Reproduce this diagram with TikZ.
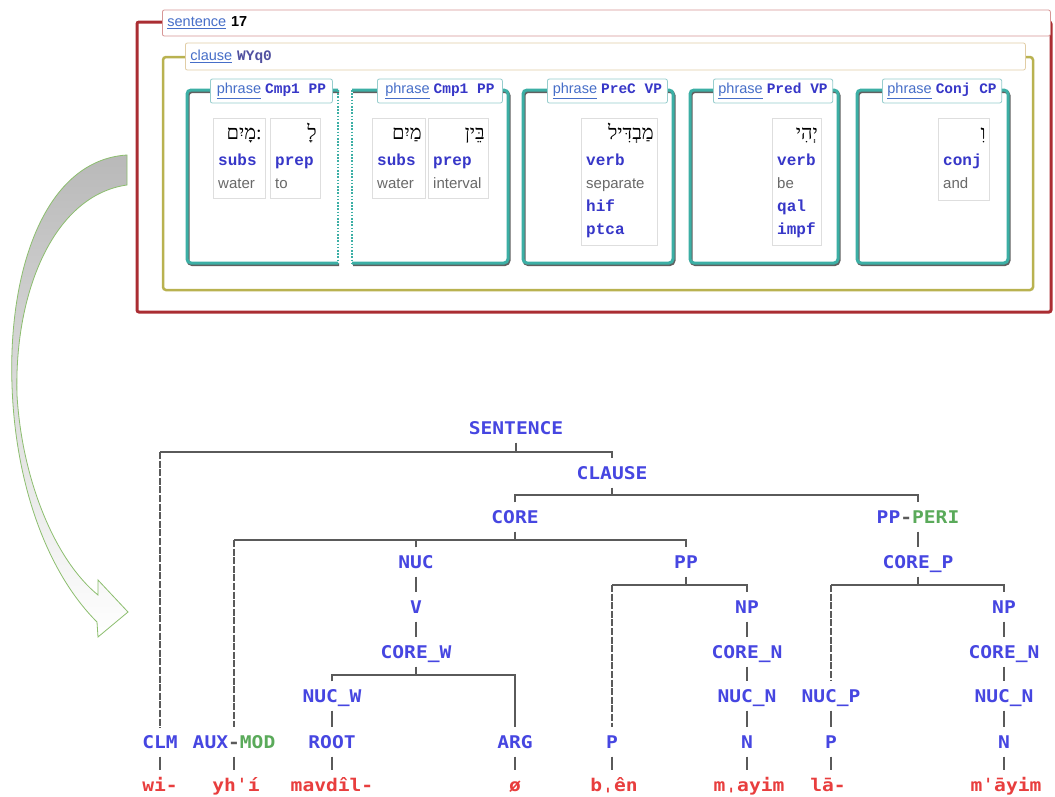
\documentclass[tikz,border=0pt]{standalone}
\usepackage{fontspec}
\usetikzlibrary{calc}
\setmainfont{Liberation Sans}
\newfontfamily\treefont[FakeStretch=1.12]{DejaVu Sans Mono}
\newfontfamily\posfont{Liberation Mono}
\newfontfamily\hebfont[Script=Hebrew]{Liberation Serif}
\TeXXeTstate=1
\definecolor{tblue}{RGB}{70,70,225}
\definecolor{tgreen}{RGB}{90,170,90}
\definecolor{tred}{RGB}{232,62,62}
\definecolor{tline}{RGB}{90,90,90}
\definecolor{sred}{RGB}{170,45,50}
\definecolor{spink}{RGB}{215,150,150}
\definecolor{colive}{RGB}{185,178,80}
\definecolor{cbeige}{RGB}{225,205,165}
\definecolor{pteal}{RGB}{60,175,165}
\definecolor{plteal}{RGB}{150,205,205}
\definecolor{wgray}{RGB}{222,222,222}
\definecolor{link}{RGB}{70,110,200}
\definecolor{posblue}{RGB}{55,55,200}
\definecolor{clblue}{RGB}{80,80,160}
\definecolor{glossgray}{RGB}{105,105,105}
\definecolor{arrowgreen}{RGB}{140,190,110}
\tikzset{
  tn/.style={font=\treefont\bfseries\fontsize{17.5}{20}\selectfont, text=tblue,
    inner xsep=1pt, inner ysep=8pt, text height=12.8pt, text depth=0pt},
  tw/.style={tn, text=tred},
  br/.style={draw=tline, line width=1.5pt},
  dl/.style={br, dash pattern=on 7pt off 1.6pt},
  lab/.style={draw=#1, fill=white, line width=0.8pt, rounded corners=2pt,
    inner xsep=5pt, inner ysep=0pt, anchor=west, font=\fontsize{14.5}{17}\selectfont},
  pframe/.style={draw=pteal, line width=3pt, rounded corners=4pt},
  pshadow/.style={draw=gray!75!black, line width=3pt, rounded corners=4pt},
  pdots/.style={draw=pteal, line width=2pt, dash pattern=on 1.6pt off 1.6pt},
  wbox/.style={draw=wgray, line width=1pt, fill=white, anchor=north west, inner sep=0pt},
  heb/.style={inner sep=0pt, anchor=base east, font=\hebfont\fontsize{20}{22}\selectfont},
  posl/.style={inner sep=0pt, anchor=base west, text=posblue, font=\posfont\bfseries\fontsize{16}{18}\selectfont},
  gl/.style={inner sep=0pt, anchor=base west, text=glossgray, font=\fontsize{15}{17}\selectfont}
}
\begin{document}
\begin{tikzpicture}[x=1pt,y=-1pt]
\useasboundingbox (0,0) rectangle (1055,796);
\fill[white] (0,0) rectangle (1055,796);

% ---------- curved block arrow ----------
\path[draw=arrowgreen, line width=0.8pt, top color=gray!55, middle color=gray!25, bottom color=white]
  (127,155) .. controls (45,160) and (8,270) .. (12,385)
  .. controls (15,480) and (45,570) .. (97,622)
  -- (98,637) -- (128,612) -- (98,580) -- (98,595)
  .. controls (55,560) and (22,480) .. (17,395)
  .. controls (14,290) and (55,195) .. (127,185) -- cycle;

% ---------- sentence frame ----------
\draw[sred, line width=3pt, rounded corners=2pt] (137,22) rectangle (1051,312);
\node[lab=spink, minimum height=26pt, text width=878pt] (slab) at (162,23)
  {{\color{link}\underline{sentence}} \textbf{17}};

% ---------- clause frame ----------
\draw[colive, line width=2.5pt, rounded corners=3pt] (163,57) rectangle (1033,290);
\node[lab=cbeige, minimum height=27pt, text width=830pt] (clab) at (185,56.5)
  {{\color{link}\underline{clause}} {\posfont\bfseries\color{clblue}WYq0}};

% ---------- phrase frames ----------
\draw[pshadow] (339,91.5) -- (188,91.5) -- (188,264.5) -- (339,264.5);
\draw[pframe] (338,90) -- (187,90) -- (187,263) -- (338,263);
\draw[pdots] (338,90) -- (338,263);
\draw[pshadow] (353,91.5) -- (509,91.5) -- (509,264.5) -- (353,264.5);
\draw[pframe] (352,90) -- (508,90) -- (508,263) -- (352,263);
\draw[pdots] (352,90) -- (352,263);
\draw[pshadow] (524,91.5) rectangle (674,264.5);
\draw[pframe] (523,90) rectangle (673,263);
\draw[pshadow] (691,91.5) rectangle (839,264.5);
\draw[pframe] (690,90) rectangle (838,263);
\draw[pshadow] (858,91.5) rectangle (1009,264.5);
\draw[pframe] (857,90) rectangle (1008,263);

\node[lab=plteal, minimum height=24pt, minimum width=122pt] (pl1) at (210,91)
  {{\color{link}\underline{phrase}} {\posfont\bfseries\color{posblue}Cmp1 PP}};
\node[lab=plteal, minimum height=24pt, minimum width=125pt] (pl2) at (377,91)
  {{\color{link}\underline{phrase}} {\posfont\bfseries\color{posblue}Cmp1 PP}};
\node[lab=plteal, minimum height=24pt, minimum width=120pt] (pl3) at (547,91)
  {{\color{link}\underline{phrase}} {\posfont\bfseries\color{posblue}PreC VP}};
\node[lab=plteal, minimum height=24pt, minimum width=119pt] (pl4) at (713,91)
  {{\color{link}\underline{phrase}} {\posfont\bfseries\color{posblue}Pred VP}};
\node[lab=plteal, minimum height=24pt, minimum width=118pt] (pl5) at (882,91)
  {{\color{link}\underline{phrase}} {\posfont\bfseries\color{posblue}Conj CP}};

% ---------- word boxes ----------
\node[wbox, minimum width=52pt, minimum height=80pt] (b1) at (213,118) {};
\node[wbox, minimum width=50pt, minimum height=80pt] (b2) at (270,118) {};
\node[wbox, minimum width=53pt, minimum height=80pt] (b3) at (372,118) {};
\node[wbox, minimum width=60pt, minimum height=80pt] (b4) at (428,118) {};
\node[wbox, minimum width=76pt, minimum height=127pt] (b5) at (581,118) {};
\node[wbox, minimum width=49pt, minimum height=127pt] (b6) at (772,118) {};
\node[wbox, minimum width=51pt, minimum height=82pt] (b7) at (938,118) {};

\node[heb] (h1) at ($(b1.north east)+(-4,21)$) {\beginR מָיִם\endR:};
\node[posl] (p1) at ($(b1.north west)+(5,47)$) {subs};
\node[gl]  (g1) at ($(b1.north west)+(5,70)$) {water};
\node[heb] (h2) at ($(b2.north east)+(-4,21)$) {\beginR לָ\endR};
\node[posl] (p2) at ($(b2.north west)+(5,47)$) {prep};
\node[gl]  (g2) at ($(b2.north west)+(5,70)$) {to};
\node[heb] (h3) at ($(b3.north east)+(-4,21)$) {\beginR מַיִם\endR};
\node[posl] (p3) at ($(b3.north west)+(5,47)$) {subs};
\node[gl]  (g3) at ($(b3.north west)+(5,70)$) {water};
\node[heb] (h4) at ($(b4.north east)+(-4,21)$) {\beginR בֵּין\endR};
\node[posl] (p4) at ($(b4.north west)+(5,47)$) {prep};
\node[gl]  (g4) at ($(b4.north west)+(5,70)$) {interval};
\node[heb] (h5) at ($(b5.north east)+(-4,21)$) {\beginR מַבְדִּיל\endR};
\node[posl] (p5) at ($(b5.north west)+(5,47)$) {verb};
\node[gl]  (g5) at ($(b5.north west)+(5,70)$) {separate};
\node[posl] (q5) at ($(b5.north west)+(5,93)$) {hif};
\node[posl] (r5) at ($(b5.north west)+(5,116)$) {ptca};
\node[heb] (h6) at ($(b6.north east)+(-4,21)$) {\beginR יְהִי\endR};
\node[posl] (p6) at ($(b6.north west)+(5,47)$) {verb};
\node[gl]  (g6) at ($(b6.north west)+(5,70)$) {be};
\node[posl] (q6) at ($(b6.north west)+(5,93)$) {qal};
\node[posl] (r6) at ($(b6.north west)+(5,116)$) {impf};
\node[heb] (h7) at ($(b7.north east)+(-4,21)$) {\beginR וִ\endR};
\node[posl] (p7) at ($(b7.north west)+(5,47)$) {conj};
\node[gl]  (g7) at ($(b7.north west)+(5,70)$) {and};

% ---------- tree ----------
\node[tn] (sent) at (516,428) {SENTENCE};
\node[tn] (clause) at (612,473) {CLAUSE};
\node[tn] (core) at (515,517) {CORE};
\node[tn] (peri) at (918,517) {PP\textcolor{tline}{-}\textcolor{tgreen}{PERI}};
\node[tn] (nuc) at (416,562) {NUC};
\node[tn] (pp) at (686,562) {PP};
\node[tn] (corep) at (918,562) {CORE\_P};
\node[tn] (v) at (416,607) {V};
\node[tn] (npa) at (747,607) {NP};
\node[tn] (npb) at (1004,607) {NP};
\node[tn] (corew) at (416,652) {CORE\_W};
\node[tn] (corena) at (747,652) {CORE\_N};
\node[tn] (corenb) at (1004,652) {CORE\_N};
\node[tn] (nucw) at (332,696) {NUC\_W};
\node[tn] (nucna) at (747,696) {NUC\_N};
\node[tn] (nucp) at (831,696) {NUC\_P};
\node[tn] (nucnb) at (1004,696) {NUC\_N};
\node[tn] (clm) at (160,742) {CLM};
\node[tn] (aux) at (234,742) {AUX\textcolor{tline}{-}\textcolor{tgreen}{MOD}};
\node[tn] (root) at (332,742) {ROOT};
\node[tn] (arg) at (515,742) {ARG};
\node[tn] (pa) at (612,742) {P};
\node[tn] (na) at (747,742) {N};
\node[tn] (pb) at (831,742) {P};
\node[tn] (nb) at (1004,742) {N};

\node[tw] (wa) at (160,785) {wi-};
\node[tw] (wb) at (236,785) {yhˈí};
\node[tw] (wc) at (332,785) {mavdîl-};
\node[tw] (wd) at (515,785) {ø};
\node[tw] (we) at (614,785) {bˌên};
\node[tw] (wf) at (749,785) {mˌayim};
\node[tw] (wg) at (828,785) {lā-};
\node[tw] (wh) at (1006,785) {mˈāyim};

\coordinate (bS) at (0,452);
\coordinate (bC) at (0,495);
\coordinate (bCo) at (0,540);
\coordinate (bPP) at (0,585);
\coordinate (bW) at (0,675);

\draw[br] (sent.south) -- (sent.south |- bS);
\draw[br] (clm.north |- bS) -- (clause.north |- bS) -- (clause.north);
\draw[dl] (clm.north |- bS) -- (clm.north);
\draw[br] (clause.south) -- (clause.south |- bC);
\draw[br] (core.north) -- (core.north |- bC) -- (peri.north |- bC) -- (peri.north);
\draw[br] (core.south) -- (core.south |- bCo);
\draw[br] (aux.north |- bCo) -- (pp.north |- bCo) -- (pp.north);
\draw[br] (nuc.north) -- (nuc.north |- bCo);
\draw[dl] (aux.north |- bCo) -- (aux.north);
\draw[br] (pp.south) -- (pp.south |- bPP);
\draw[br] (pa.north |- bPP) -- (npa.north |- bPP) -- (npa.north);
\draw[dl] (pa.north |- bPP) -- (pa.north);
\draw[br] (peri.south) -- (corep.north);
\draw[br] (corep.south) -- (corep.south |- bPP);
\draw[br] (nucp.north |- bPP) -- (npb.north |- bPP) -- (npb.north);
\draw[dl] (nucp.north |- bPP) -- (nucp.north);
\draw[br] (nuc.south) -- (v.north);
\draw[br] (v.south) -- (corew.north);
\draw[br] (corew.south) -- (corew.south |- bW);
\draw[br] (nucw.north) -- (nucw.north |- bW) -- (arg.north |- bW) -- (arg.north);
\draw[br] (nucw.south) -- (root.north);
\draw[br] (npa.south) -- (corena.north);
\draw[br] (corena.south) -- (nucna.north);
\draw[br] (nucna.south) -- (na.north);
\draw[br] (npb.south) -- (corenb.north);
\draw[br] (corenb.south) -- (nucnb.north);
\draw[br] (nucnb.south) -- (nb.north);
\draw[br] (nucp.south) -- (pb.north);
\draw[br] (clm.south) -- (clm.south |- wa.north);
\draw[br] (aux.south) -- (aux.south |- wb.north);
\draw[br] (root.south) -- (root.south |- wc.north);
\draw[br] (arg.south) -- (arg.south |- wd.north);
\draw[br] (pa.south) -- (pa.south |- we.north);
\draw[br] (na.south) -- (na.south |- wf.north);
\draw[br] (pb.south) -- (pb.south |- wg.north);
\draw[br] (nb.south) -- (nb.south |- wh.north);
\end{tikzpicture}
\end{document}
